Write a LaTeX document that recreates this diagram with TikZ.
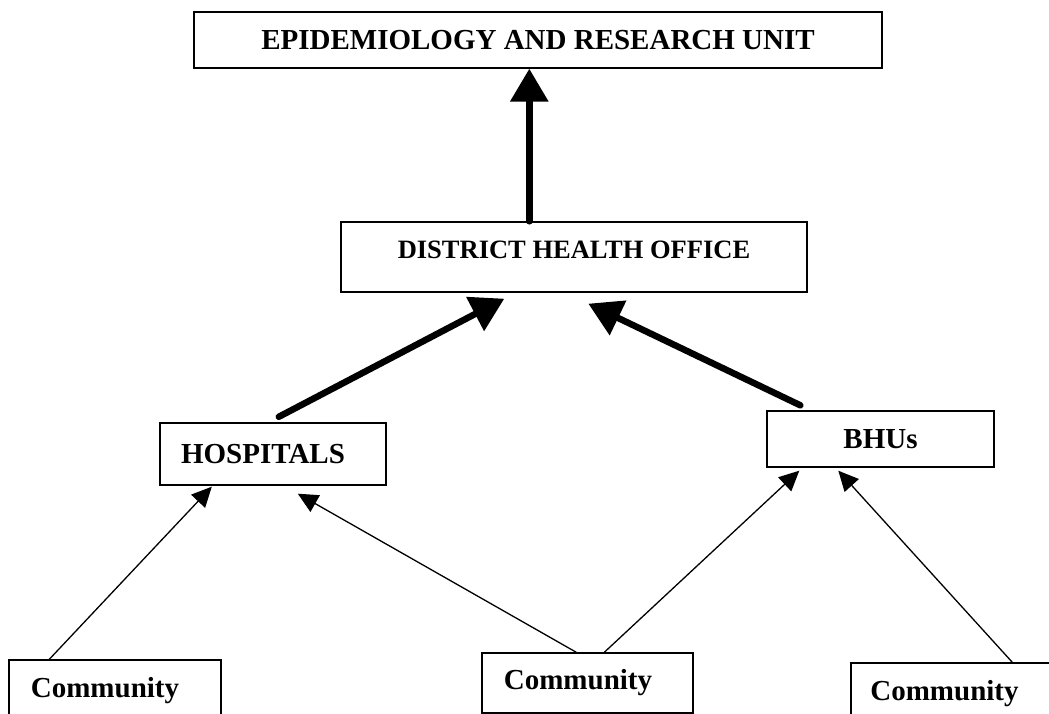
\documentclass[tikz,border=0pt]{standalone}
\usepackage{fontspec}
\setmainfont{Liberation Serif}
\usepackage{tikz}
\usetikzlibrary{positioning,arrows.meta}

\begin{document}
\begin{tikzpicture}[x=1pt, y=-1pt,
        % Node styles
        unitbox/.style={draw=black, line width=1.4pt, rectangle, inner sep=0pt},
        boxtext/.style={font=\fontsize{29}{34}\selectfont\bfseries, text=black},
        smalltext/.style={font=\fontsize{26.5}{31}\selectfont\bfseries, text=black},
        % Arrow styles
        mainflow/.style={line width=6.5pt, line cap=round, -{Triangle[width=37pt, length=33pt]}},
        reportflow/.style={line width=1.3pt, -{Triangle[width=19pt, length=20pt]}}
    ]
    \useasboundingbox (0,0) rectangle (1049,714);

    % Top unit
    \node[unitbox, minimum width=688pt, minimum height=56pt,
          label={[boxtext]center:EPIDEMIOLOGY AND RESEARCH UNIT}] (eru) at (538,40) {};

    % District level
    \node[unitbox, minimum width=466pt, minimum height=70pt,
          label={[smalltext, yshift=7pt]center:DISTRICT HEALTH OFFICE}] (dho) at (574,257) {};

    % Facilities
    \node[unitbox, minimum width=226pt, minimum height=62pt,
          label={[boxtext, xshift=-10pt]center:HOSPITALS}] (hosp) at (273,454) {};
    \node[unitbox, minimum width=227pt, minimum height=56pt,
          label={[boxtext]center:BHUs}] (bhu) at (880.5,439) {};

    % Communities
    \node[unitbox, minimum width=212pt, minimum height=62pt,
          label={[boxtext, xshift=-10pt]center:Community}] (comL) at (115,691) {};
    \node[unitbox, minimum width=211pt, minimum height=60pt,
          label={[boxtext, xshift=-9.5pt]center:Community}] (comM) at (587.5,683) {};
    \node[unitbox, minimum width=209pt, minimum height=59pt,
          label={[boxtext, xshift=-11pt, yshift=-1pt]center:Community}] (comR) at (955.5,692.5) {};

    % Thick arrows to the top
    \draw[mainflow] ([xshift=189pt]dho.north west) -- ([xshift=336pt]eru.south west);
    \draw[mainflow] ([xshift=119.5pt, yshift=5.5pt]hosp.north west) -- ([xshift=164pt, yshift=-6pt]dho.south west);
    \draw[mainflow] ([xshift=34pt, yshift=5pt]bhu.north west) -- ([xshift=248pt, yshift=-11pt]dho.south west);

    % Thin arrows from communities
    \draw[reportflow] ([xshift=41pt]comL.north west) -- ([xshift=52.5pt, yshift=-1pt]hosp.south west);
    \draw[reportflow] ([xshift=95pt]comM.north west) -- ([xshift=138.5pt, yshift=-8pt]hosp.south west);
    \draw[reportflow] ([xshift=123pt]comM.north west) -- ([xshift=33pt, yshift=-3pt]bhu.south west);
    \draw[reportflow] ([xshift=162pt]comR.north west) -- ([xshift=72pt, yshift=-3pt]bhu.south west);

\end{tikzpicture}
\end{document}
